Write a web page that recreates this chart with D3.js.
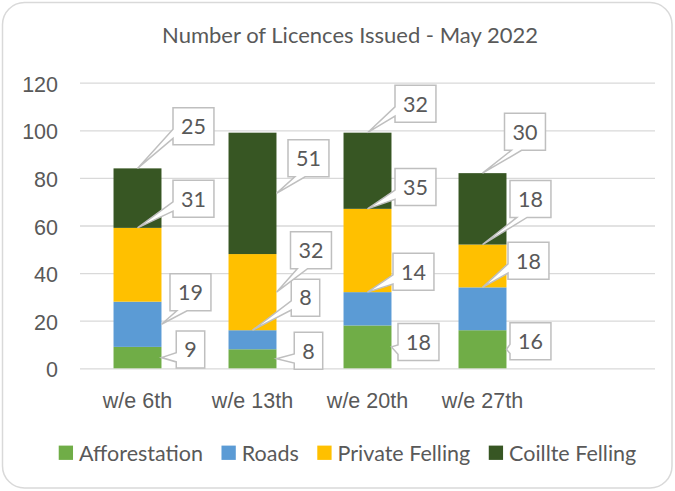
<!DOCTYPE html>
<html>
<head>
<meta charset="utf-8">
<script src="https://cdn.jsdelivr.net/npm/d3@7"></script>
<style>
  body { margin: 0; background: #fff; }
  svg { display: block; font-family: Lato, 'Open Sans', sans-serif; }
</style>
</head>
<body>
<div id="chart"></div>
<script>
const categories = ['w/e 6th', 'w/e 13th', 'w/e 20th', 'w/e 27th'];
const seriesNames = ['Afforestation', 'Roads', 'Private Felling', 'Coillte Felling'];
const afforestation = [9, 8, 18, 16];
const roads = [19, 8, 14, 18];
const privateFelling = [31, 32, 35, 18];
const coillteFelling = [25, 51, 32, 30];
const yTicks = [0, 20, 40, 60, 80, 100, 120];
const colors = ['#70ad47', '#5b9bd5', '#ffc000', '#375623'];

// where each callout box sits: px from the bar's right edge / the segment's middle
const calloutOffsets = [
  [[29, -8], [32, -8], [27, -5], [24, -8]],
  [[29, -32], [29, -42], [22, -37], [22, -48]],
  [[32, -66], [34.5, -42], [24, -63.5], [24, -67]],
  [[32, -72], [32, -35], [24, -67], [18.5, -77]]
];

const W = 675, H = 491;
const textColor = '#595959';
const fontSize = 21.5;

const svg = d3.select('#chart').append('svg')
  .attr('width', W).attr('height', H);

svg.append('rect')
  .attr('x', 2.5).attr('y', 2.5)
  .attr('width', 669.5).attr('height', 485.5)
  .attr('rx', 22)
  .attr('fill', '#fff')
  .attr('stroke', '#d9d9d9').attr('stroke-width', 1.5);

// empty fifth slot, as in the source sheet
const x = d3.scaleBand()
  .domain([...categories, ''])
  .range([80, 655])
  .paddingInner(0.583)
  .paddingOuter(0.2915);

const y = d3.scaleLinear().domain([0, 120]).range([368.3, 82.7]);

// y axis + gridlines
const yAxis = svg.append('g')
  .attr('transform', 'translate(80,0)')
  .call(d3.axisLeft(y).tickValues(yTicks).tickSize(-575).tickPadding(22));
yAxis.select('.domain').remove();
yAxis.selectAll('line').attr('stroke', '#d9d9d9').attr('stroke-width', 1.3);
yAxis.selectAll('text')
  .attr('fill', textColor)
  .attr('font-size', fontSize)
  .attr('font-family', null)
  .attr('dy', '0.4em');

// x axis labels
const xAxis = svg.append('g')
  .attr('transform', `translate(0,${y(0)})`)
  .call(d3.axisBottom(x).tickValues(categories).tickSize(0));
xAxis.select('.domain').remove();
xAxis.selectAll('text')
  .attr('fill', textColor)
  .attr('font-size', fontSize)
  .attr('font-family', null)
  .attr('y', 32)
  .attr('dy', '0.36em');

// stacked bars
const table = categories.map((c, i) => ({
  cat: c,
  'Afforestation': afforestation[i],
  'Roads': roads[i],
  'Private Felling': privateFelling[i],
  'Coillte Felling': coillteFelling[i]
}));
const stacked = d3.stack().keys(seriesNames)(table);

svg.append('g').selectAll('g')
  .data(stacked)
  .join('g')
  .attr('fill', (d, i) => colors[i])
  .selectAll('rect')
  .data(d => d)
  .join('rect')
  .attr('x', d => x(d.data.cat))
  .attr('y', d => y(d[1]))
  .attr('width', x.bandwidth())
  .attr('height', d => y(d[0]) - y(d[1]));

// wedge-rectangle callout, same geometry as the office shape
function calloutPath(l, t, w, h, px, py) {
  const r = l + w, b = t + h, hc = l + w / 2, vc = t + h / 2;
  const dx = px - hc, dy = py - vc;
  const dq = dx * h / w;
  const dz = Math.abs(dy) - Math.abs(dq);
  const x1 = l + w * (dx > 0 ? 7 : 2) / 12, x2 = l + w * (dx > 0 ? 10 : 5) / 12;
  const y1 = t + h * (dy > 0 ? 7 : 2) / 12, y2 = t + h * (dy > 0 ? 10 : 5) / 12;
  const xl = dz > 0 ? l : (dx > 0 ? l : px);
  const yl = dz > 0 ? y1 : (dx > 0 ? y1 : py);
  const xt = dz > 0 ? (dy > 0 ? x1 : px) : x1;
  const yt = dz > 0 ? (dy > 0 ? t : py) : t;
  const xr = dz > 0 ? r : (dx > 0 ? px : r);
  const yr = dz > 0 ? y1 : (dx > 0 ? py : y1);
  const xb = dz > 0 ? (dy > 0 ? px : x1) : x1;
  const yb = dz > 0 ? (dy > 0 ? py : b) : b;
  return `M${l},${t}L${x1},${t}L${xt},${yt}L${x2},${t}L${r},${t}L${r},${y1}L${xr},${yr}L${r},${y2}` +
    `L${r},${b}L${x2},${b}L${xb},${yb}L${x1},${b}L${l},${b}L${l},${y2}L${xl},${yl}L${l},${y1}Z`;
}

const labels = svg.append('g');
stacked.forEach((series, si) => {
  series.forEach((d, ci) => {
    const value = d[1] - d[0];
    const left = x(d.data.cat), right = left + x.bandwidth();
    const top = y(d[1]), mid = y((d[0] + d[1]) / 2);
    const off = calloutOffsets[si][ci];
    const g = labels.append('g');
    const txt = g.append('text')
      .attr('fill', textColor)
      .attr('font-size', fontSize)
      .attr('text-anchor', 'middle')
      .attr('dy', '0.36em')
      .text(value);
    const w = txt.node().getComputedTextLength() + 16, h = 37;
    const cx = right + off[0], cy = mid + off[1];
    const bx = cx - w / 2, by = cy - h / 2;
    const tip = (by + h < top) ? [left + x.bandwidth() / 2, top] : [right, mid];
    g.insert('path', 'text')
      .attr('d', calloutPath(bx, by, w, h, tip[0], tip[1]))
      .attr('fill', '#fff')
      .attr('stroke', '#bfbfbf')
      .attr('stroke-width', 1.5);
    txt.attr('x', cx).attr('y', cy);
  });
});

// title
svg.append('text')
  .attr('x', 350).attr('y', 35)
  .attr('text-anchor', 'middle')
  .attr('dy', '0.36em')
  .attr('fill', textColor)
  .attr('font-size', 22)
  .text('Number of Licences Issued - May 2022');

// legend
const legend = svg.append('g');
let lx = 0;
seriesNames.forEach((name, i) => {
  const item = legend.append('g').attr('transform', `translate(${lx},0)`);
  item.append('rect')
    .attr('x', 0).attr('y', -7.2)
    .attr('width', 14.3).attr('height', 14.3)
    .attr('fill', colors[i]);
  const t = item.append('text')
    .attr('x', 20.3).attr('y', 0)
    .attr('dy', '0.36em')
    .attr('fill', textColor)
    .attr('font-size', fontSize)
    .text(name);
  lx += 20.3 + t.node().getComputedTextLength() + 18.5;
});
const legendWidth = lx - 18.5;
legend.attr('transform', `translate(${347.5 - legendWidth / 2},452.8)`);
</script>
</body>
</html>
